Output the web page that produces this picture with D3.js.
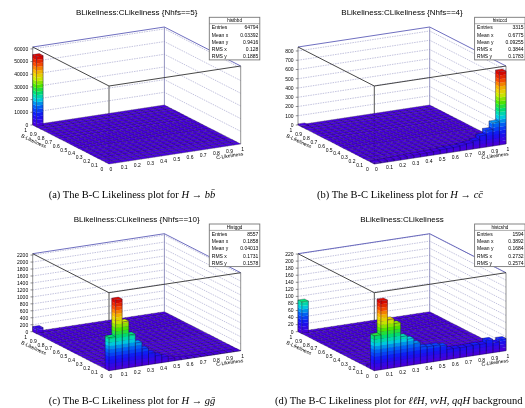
<!DOCTYPE html>
<html>
<head>
<meta charset="utf-8">
<script src="https://cdn.jsdelivr.net/npm/d3@7"></script>
<style>
  html, body { margin: 0; padding: 0; background: #fff; }
  svg { display: block; filter: blur(0.45px); }
  text { font-family: "Liberation Sans", sans-serif; fill: #000; }
  .caption { font-family: "Liberation Serif", serif; font-size: 10.5px; fill: #000; }
</style>
</head>
<body>
<svg id="chart" width="525" height="408"></svg>
<script>
const titles = [
  'BLikeliness:CLikeliness {Nhfs==5}',
  'BLikeliness:CLikeliness {Nhfs==4}',
  'BLikeliness:CLikeliness {Nhfs==10}',
  'BLikeliness:CLikeliness'
];
const captionLeads = ['(a)  The B-C Likeliness plot for ', '(b)  The B-C Likeliness plot for ', '(c)  The B-C Likeliness plot for ', '(d)  The B-C Likeliness plot for '];
const captionMaths = ['H → bb̄', 'H → cc̄', 'H → gḡ', 'ℓℓH, ννH, qqH'];
const captionTails = ['', '', '', ' background'];

const statNames = ['histbbd', 'histccd', 'Histggd', 'histcshd'];
const statLabels = ['Entries', 'Mean x', 'Mean y', 'RMS x', 'RMS y'];
const statValues = [
  ['64794', '0.03392', '0.9416', '0.128', '0.1885'],
  ['3315', '0.6775', '0.09255', '0.3844', '0.1783'],
  ['8557', '0.1858', '0.04013', '0.1731', '0.1578'],
  ['1594', '0.3892', '0.1684', '0.2732', '0.2574']
];

// bin contents: row nearest the viewer (B bin 0), C bins 0..19
const frontRowBB = [0, 0, 0, 0, 0, 0, 0, 0, 0, 0, 0, 0, 0, 0, 0, 0, 0, 0, 0, 0];
const frontRowCC = [12, 15, 18, 22, 25, 28, 30, 32, 35, 38, 45, 48, 50, 60, 70, 90, 130, 180, 250, 790];
const frontRowGG = [950, 2000, 1340, 940, 680, 480, 330, 230, 160, 80, 40, 25, 15, 10, 8, 6, 5, 5, 4, 4];
const frontRowBG = [99, 195, 139, 125, 85, 75, 60, 47, 45, 45, 42, 29, 29, 28, 29, 30, 29, 38, 28, 35];
const frontRows = [frontRowBB, frontRowCC, frontRowGG, frontRowBG];

// second row (B bin 1), only the bins that rise off the floor
const secondRowCC = [0, 0, 0, 0, 0, 0, 0, 0, 0, 0, 0, 0, 0, 0, 0, 10, 20, 40, 60, 90];
const secondRowBG = [6, 12, 8, 6, 5, 4, 0, 0, 0, 0, 0, 0, 0, 0, 0, 0, 0, 4, 6, 8];
const secondRows = [[], secondRowCC, [], secondRowBG];

// far corner bin (C bin 0, B bin 19)
const cornerValues = [55500, 12, 150, 90];

const zMaxes = [61500, 843, 2240, 221];
const zTicks = [
  d3.range(0, 60001, 10000),
  d3.range(0, 801, 100),
  d3.range(0, 2201, 200),
  d3.range(0, 221, 20)
];
const axisTicks = d3.range(0, 11).map(d => d / 10);

const nBins = 20;
const nBands = 20;

// layout of the four pads on the page
const padX = [0, 265.3, 0, 265.3];
const padY = [0, 0, 206.7, 206.7];

const paletteStops = [0, 0.14, 0.28, 0.38, 0.48, 0.58, 0.7, 0.8, 0.9, 1];
const paletteColors = ['#4a00e6', '#1414ff', '#0070ff', '#00e0e6', '#00e66e', '#50f000', '#e6f000', '#ffb400', '#ff4800', '#e00a00'];

const palette = d3.scaleLinear()
  .domain(paletteStops)
  .range(paletteColors)
  .interpolate(d3.interpolateRgb);

// oblique projection of the lego box
const cToX = d3.scaleLinear().domain([0, 1]).range([0, 131.7]);
const cToY = d3.scaleLinear().domain([0, 1]).range([0, -20]);
const bToX = d3.scaleLinear().domain([0, 1]).range([0, -76.3]);
const bToY = d3.scaleLinear().domain([0, 1]).range([0, -39]);

const svg = d3.select('#chart');
const polyLine = d3.line();

function binTable(i) {
  const cells = [];
  for (let bx = 0; bx < nBins; bx++) {
    for (let by = 0; by < nBins; by++) {
      let value = 0;
      if (by === 0) value = frontRows[i][bx];
      else if (by === 1 && secondRows[i].length) value = secondRows[i][bx];
      if (bx === 0 && by === nBins - 1) value = cornerValues[i];
      cells.push({ bx, by, value });
    }
  }
  return cells;
}

function drawPad(i) {
  const frontX = 109 + padX[i];
  const frontY = 164 + padY[i];
  const zScale = d3.scaleLinear().domain([0, zMaxes[i]]).range([0, -78]);
  const project = (c, b, z) => [
    frontX + cToX(c) + bToX(b),
    frontY + cToY(c) + bToY(b) + zScale(z)
  ];

  const g = svg.append('g');
  const zTop = zMaxes[i];

  zTicks[i].slice(1).forEach(t => {
    g.append('path')
      .attr('d', polyLine([project(0, 1, t), project(1, 1, t), project(1, 0, t)]))
      .attr('fill', 'none')
      .attr('stroke', '#9a9ac8')
      .attr('stroke-width', 0.6)
      .attr('stroke-dasharray', '1.5,1');
  });

  const frame = (pts, color, width) => g.append('path')
    .attr('d', polyLine(pts))
    .attr('fill', 'none')
    .attr('stroke', color)
    .attr('stroke-width', width);

  frame([project(0, 1, zTop), project(1, 1, zTop), project(1, 0, zTop)], '#4a4ab0', 0.8);
  frame([project(1, 1, 0), project(1, 1, zTop)], '#7a7ab0', 0.8);
  frame([project(0, 1, 0), project(0, 1, zTop)], '#777', 0.8);
  frame([project(1, 0, 0), project(1, 0, zTop)], '#777', 0.8);
  frame([project(0, 0, 0), project(0, 0, zTop)], '#555', 1);
  frame([project(0, 1, zTop), project(0, 0, zTop), project(1, 0, zTop)], '#333', 0.9);

  // bars back to front
  const w = 1 / nBins;
  const dataMax = d3.max(binTable(i), d => d.value);
  const bandSize = dataMax / nBands;
  const cells = binTable(i).sort((p, q) => (q.bx + q.by) - (p.bx + p.by));
  const edge = '#14082e';

  cells.forEach(cell => {
    const c0 = cell.bx * w, c1 = c0 + w;
    const b0 = cell.by * w, b1 = b0 + w;
    const v = cell.value;

    const bandCount = Math.ceil(v / bandSize);
    d3.range(bandCount).forEach(k => {
      const lo = k * bandSize;
      const hi = Math.min(v, (k + 1) * bandSize);
      const col = palette(k / (nBands - 1));
      const rightCol = d3.color(col).darker(0.15).formatHex();
      g.append('path')
        .attr('d', polyLine([project(c0, b1, lo), project(c0, b0, lo), project(c0, b0, hi), project(c0, b1, hi)]) + 'Z')
        .attr('fill', col).attr('stroke', col).attr('stroke-width', 0.15);
      g.append('path')
        .attr('d', polyLine([project(c0, b0, lo), project(c1, b0, lo), project(c1, b0, hi), project(c0, b0, hi)]) + 'Z')
        .attr('fill', rightCol).attr('stroke', rightCol).attr('stroke-width', 0.15);
    });

    const topCol = palette(bandCount > 0 ? (bandCount - 1) / (nBands - 1) : 0);
    g.append('path')
      .attr('d', polyLine([project(c0, b0, v), project(c1, b0, v), project(c1, b1, v), project(c0, b1, v)]) + 'Z')
      .attr('fill', topCol)
      .attr('stroke', edge)
      .attr('stroke-width', 0.3);

    if (v > 0) {
      frame([project(c0, b1, 0), project(c0, b1, v)], edge, 0.4);
      frame([project(c0, b0, 0), project(c0, b0, v)], edge, 0.4);
      frame([project(c1, b0, 0), project(c1, b0, v)], edge, 0.4);
      frame([project(c0, b1, 0), project(c0, b0, 0), project(c1, b0, 0)], edge, 0.4);
    }
  });

  // z axis
  zTicks[i].forEach(t => {
    const [x, y] = project(0, 1, t);
    g.append('line')
      .attr('x1', x - 2.2).attr('x2', x).attr('y1', y).attr('y2', y)
      .attr('stroke', '#444').attr('stroke-width', 0.6);
    g.append('text')
      .attr('x', x - 4.5).attr('y', y + 1.8)
      .attr('text-anchor', 'end')
      .attr('font-size', 5)
      .text(t);
  });

  // C and B axes on the floor edges
  axisTicks.forEach(t => {
    const [cx, cy] = project(t, 0, 0);
    g.append('text')
      .attr('x', cx + 2).attr('y', cy + 7.3)
      .attr('text-anchor', 'middle')
      .attr('font-size', 5)
      .text(d3.format('~g')(t));
    const [bx, by] = project(0, t, 0);
    g.append('text')
      .attr('x', bx - 7).attr('y', by + 7)
      .attr('text-anchor', 'middle')
      .attr('font-size', 5)
      .text(d3.format('~g')(t));
  });

  g.append('text')
    .attr('transform', `translate(${frontX + 121},${frontY - 6.7}) rotate(-8)`)
    .attr('text-anchor', 'middle')
    .attr('font-size', 5)
    .text('C-Likeliness');
  g.append('text')
    .attr('transform', `translate(${frontX - 76},${frontY - 21.3}) rotate(25)`)
    .attr('text-anchor', 'middle')
    .attr('font-size', 5)
    .text('B-Likeliness');

  // title
  g.append('text')
    .attr('x', 136.7 + padX[i]).attr('y', 14.8 + padY[i])
    .attr('text-anchor', 'middle')
    .attr('font-size', 8)
    .text(titles[i]);

  // stats box
  const boxX = 209.3 + padX[i];
  const boxY = i < 2 ? 17.3 : 224;
  const boxW = 50.5;
  const rowH = 7.2;
  g.append('rect')
    .attr('x', boxX).attr('y', boxY)
    .attr('width', boxW).attr('height', 42.6)
    .attr('fill', '#fff')
    .attr('stroke', '#777')
    .attr('stroke-width', 0.9);
  g.append('line')
    .attr('x1', boxX).attr('x2', boxX + boxW)
    .attr('y1', boxY + 6.4).attr('y2', boxY + 6.4)
    .attr('stroke', '#777').attr('stroke-width', 0.6);
  g.append('text')
    .attr('x', boxX + boxW / 2).attr('y', boxY + 4.8)
    .attr('text-anchor', 'middle')
    .attr('font-size', 4.6)
    .text(statNames[i]);
  statLabels.forEach((label, r) => {
    const y = boxY + 12 + r * rowH;
    g.append('text').attr('x', boxX + 2.5).attr('y', y).attr('font-size', 5).text(label);
    g.append('text').attr('x', boxX + boxW - 1.5).attr('y', y)
      .attr('text-anchor', 'end').attr('font-size', 5).text(statValues[i][r]);
  });

  // caption under the pad
  const captionCenter = [132, 400, 132, 398.7][i];
  const captionY = [198, 198, 404.3, 404.3][i];
  const cap = g.append('text')
    .attr('class', 'caption')
    .attr('x', captionCenter).attr('y', captionY)
    .attr('text-anchor', 'middle');
  cap.append('tspan').text(captionLeads[i]);
  cap.append('tspan').attr('font-style', 'italic').text(captionMaths[i]);
  cap.append('tspan').text(captionTails[i]);
}

d3.range(4).forEach(drawPad);
</script>
</body>
</html>
